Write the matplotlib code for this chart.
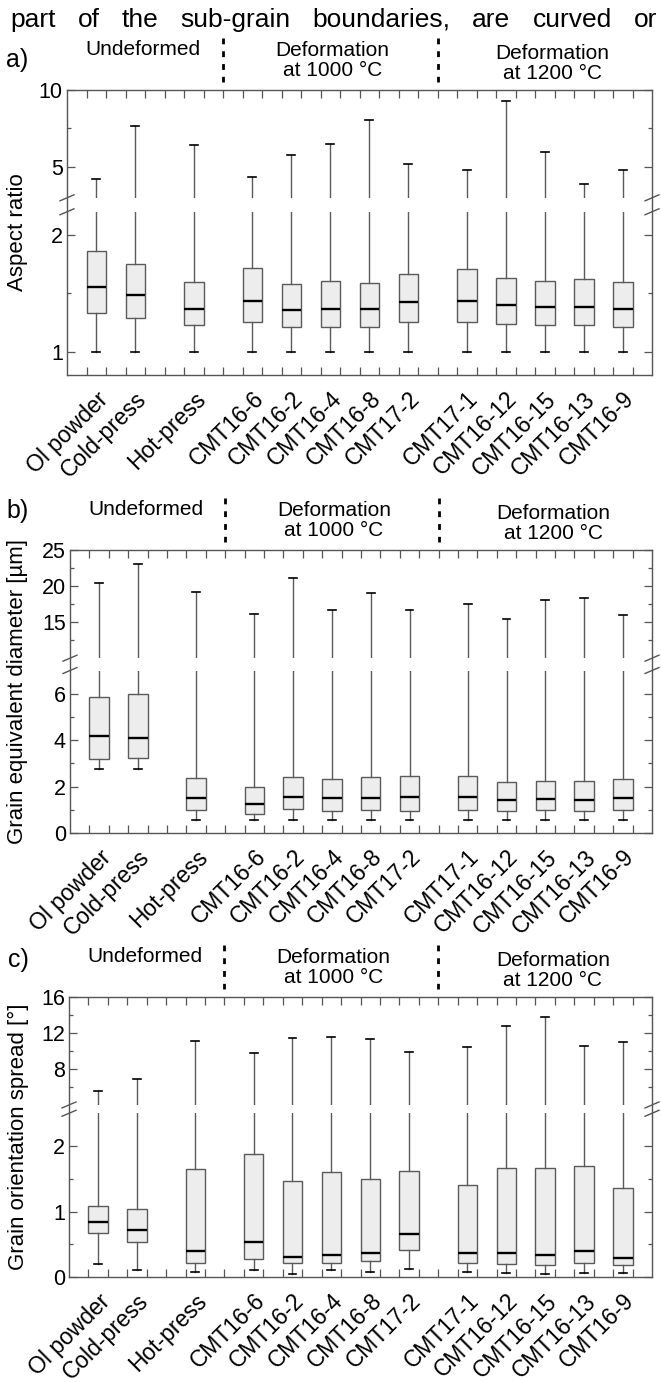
import numpy as np
import matplotlib
matplotlib.use("Agg")
import matplotlib.pyplot as plt
from matplotlib.transforms import blended_transform_factory
from matplotlib.ticker import NullFormatter
from matplotlib.lines import Line2D

plt.rcParams['font.family'] = ['Liberation Sans', 'DejaVu Sans']
plt.rcParams['lines.scale_dashes'] = False

# ---------------- data ----------------
samples = ["Ol powder", "Cold-press", "Hot-press", "CMT16-6", "CMT16-2", "CMT16-4",
           "CMT16-8", "CMT17-2", "CMT17-1", "CMT16-12", "CMT16-15", "CMT16-13", "CMT16-9"]
positions = [1.5, 3.5, 6.5, 9.5, 11.5, 13.5, 15.5, 17.5, 20.5, 22.5, 24.5, 26.5, 28.5]

aspect_lo  = [1.00, 1.00, 1.00, 1.00, 1.00, 1.00, 1.00, 1.00, 1.00, 1.00, 1.00, 1.00, 1.00]
aspect_q1  = [1.26, 1.22, 1.17, 1.19, 1.16, 1.16, 1.16, 1.19, 1.19, 1.18, 1.17, 1.17, 1.16]
aspect_med = [1.47, 1.40, 1.29, 1.35, 1.28, 1.29, 1.29, 1.34, 1.35, 1.32, 1.30, 1.30, 1.29]
aspect_q3  = [1.82, 1.68, 1.51, 1.64, 1.49, 1.52, 1.50, 1.58, 1.63, 1.55, 1.52, 1.54, 1.51]
aspect_hi  = [4.48, 7.22, 6.10, 4.58, 5.57, 6.15, 7.64, 5.13, 4.84, 9.06, 5.69, 4.30, 4.87]

diam_lo  = [2.76, 2.76, 0.54, 0.54, 0.54, 0.54, 0.54, 0.54, 0.54, 0.54, 0.54, 0.54, 0.54]
diam_q1  = [3.20, 3.21, 0.97, 0.81, 1.04, 0.96, 0.99, 0.96, 0.99, 0.94, 0.97, 0.96, 0.99]
diam_med = [4.17, 4.11, 1.51, 1.24, 1.54, 1.50, 1.50, 1.53, 1.53, 1.43, 1.46, 1.43, 1.50]
diam_q3  = [5.87, 6.00, 2.36, 2.00, 2.40, 2.33, 2.40, 2.44, 2.46, 2.21, 2.26, 2.26, 2.31]
diam_hi  = [20.4, 23.07, 19.18, 16.06, 21.1, 16.66, 18.99, 16.7, 17.57, 15.41, 18.08, 18.4, 16.0]

gos_lo  = [0.20, 0.11, 0.08, 0.10, 0.05, 0.10, 0.08, 0.12, 0.08, 0.06, 0.05, 0.06, 0.06]
gos_q1  = [0.67, 0.54, 0.21, 0.27, 0.21, 0.21, 0.24, 0.41, 0.21, 0.20, 0.18, 0.21, 0.18]
gos_med = [0.84, 0.72, 0.39, 0.54, 0.31, 0.33, 0.36, 0.65, 0.36, 0.36, 0.33, 0.40, 0.29]
gos_q3  = [1.08, 1.04, 1.65, 1.88, 1.46, 1.61, 1.50, 1.62, 1.41, 1.66, 1.66, 1.70, 1.36]
gos_hi  = [5.59, 6.89, 11.14, 9.74, 11.48, 11.59, 11.33, 9.92, 10.41, 12.78, 13.81, 10.56, 11.0]

group_labels = ["Undeformed", ["Deformation", "at 1000 \u00b0C"], ["Deformation", "at 1200 \u00b0C"]]
separators = [8, 19]

top_words = ["part", "of", "the", "sub-grain", "boundaries,", "are", "curved", "or"]

# ---------------- layout ----------------
W, H, DPI = 661, 1382, 100
fig = plt.figure(figsize=(W / DPI, H / DPI), dpi=DPI)

GREY = '#555555'
FS_TICK = 15.5
FS_XLAB = 16.5
FS_HDR = 15
FS_YLAB = 16


def make_funcs(log, lo_slope, v1, v2, gap, up_slope):
    g = (lambda v: np.log10(np.clip(v, 1e-9, None))) if log else (lambda v: v)
    ginv = (lambda u: 10.0 ** u) if log else (lambda u: u)
    t1 = lo_slope * g(np.float64(v1))
    t2 = t1 + gap
    gv2 = g(np.float64(v2))

    def fwd(v):
        v = np.asarray(v, dtype=float)
        with np.errstate(all='ignore'):
            tl = lo_slope * g(v)
            tu = t2 + up_slope * (g(v) - gv2)
            tm = t1 + (v - v1) / (v2 - v1) * gap
        return np.where(v <= v1, tl, np.where(v >= v2, tu, tm))

    def inv(t):
        t = np.asarray(t, dtype=float)
        with np.errstate(all='ignore'):
            vl = ginv(t / lo_slope)
            vu = ginv(gv2 + (t - t2) / up_slope)
            vm = v1 + (t - t1) / gap * (v2 - v1)
        return np.where(t <= t1, vl, np.where(t >= t2, vu, vm))
    return fwd, inv


panels = [
    dict(label='a)', lab_xy=(6, 67), left=67, right=652, top=90, bottom=375,
         ylabel='Aspect ratio',
         data=(aspect_lo, aspect_q1, aspect_med, aspect_q3, aspect_hi),
         scale=(True, 390.0, 2.29, 3.78, 14.0, 256.0), ylim=(0.871, 10),
         major=[1, 2, 5, 10], majlab=['1', '2', '5', '10'],
         minor=[2 ** 0.5, 50 ** 0.5]),
    dict(label='b)', lab_xy=(6, 518), left=70, right=652, top=550, bottom=833,
         ylabel='Grain equivalent diameter [\u00b5m]',
         data=(diam_lo, diam_q1, diam_med, diam_q3, diam_hi),
         scale=(False, 23.33, 7.0, 10.0, 12.4, 7.25), ylim=(0, 25),
         major=[0, 2, 4, 6, 15, 20, 25], majlab=['0', '2', '4', '6', '15', '20', '25'],
         minor=[1, 3, 5, 12.5, 17.5, 22.5]),
    dict(label='c)', lab_xy=(8, 967), left=69, right=652, top=997, bottom=1277,
         ylabel='Grain orientation spread [\u00b0]',
         data=(gos_lo, gos_q1, gos_med, gos_q3, gos_hi),
         scale=(False, 65.5, 2.5, 4.0, 8.3, 9.0), ylim=(0, 16),
         major=[0, 1, 2, 8, 12, 16], majlab=['0', '1', '2', '8', '12', '16'],
         minor=[0.5, 1.5, 6, 10, 14]),
]

axes = []
for p in panels:
    l, r, t, b = p['left'], p['right'], p['top'], p['bottom']
    ax = fig.add_axes([l / W, 1 - b / H, (r - l) / W, (b - t) / H])
    axes.append(ax)
    hpx = b - t
    fwd, inv = make_funcs(*p['scale'])
    ax.set_yscale('function', functions=(fwd, inv))
    ax.set_xlim(0, 30)
    ax.set_ylim(*p['ylim'])

    lo, q1, med, q3, hi = p['data']
    stats = [dict(med=m, q1=a, q3=c, whislo=w0, whishi=w1, fliers=[])
             for w0, a, m, c, w1 in zip(lo, q1, med, q3, hi)]
    ax.bxp(stats, positions=positions, widths=1.0, capwidths=0.4,
           patch_artist=True, showfliers=False, manage_ticks=False,
           boxprops=dict(facecolor='#ededed', edgecolor='#5a5a5a', linewidth=1.0),
           medianprops=dict(color='black', linewidth=1.7, solid_capstyle='butt'),
           whiskerprops=dict(color='#5a5a5a', linewidth=1.0),
           capprops=dict(color='black', linewidth=1.2))

    # break gap
    v1, v2 = p['scale'][2], p['scale'][3]
    ax.axhspan(v1, v2, facecolor='white', edgecolor='none', zorder=2.2)

    # ticks
    ax.set_xticks(range(1, 30))
    ax.xaxis.set_major_formatter(NullFormatter())
    ax.set_xticks(positions, samples, minor=True)
    for lab in ax.get_xticklabels(minor=True):
        lab.set_rotation(45)
        lab.set_ha('right')
        lab.set_va('top')
        lab.set_rotation_mode('anchor')
    ax.tick_params(axis='x', which='major', direction='in', top=True, bottom=True,
                   length=5.8, width=0.9, color=GREY)
    ax.tick_params(axis='x', which='minor', length=0, pad=9, labelsize=FS_XLAB)
    ax.set_yticks(p['major'], p['majlab'])
    ax.set_yticks(p['minor'], minor=True)
    ax.yaxis.set_minor_formatter(NullFormatter())
    ax.tick_params(axis='y', which='both', direction='in', left=True, right=True,
                   width=0.9, color=GREY, labelsize=FS_TICK, pad=3)
    ax.tick_params(axis='y', which='major', length=5.8)
    ax.tick_params(axis='y', which='minor', length=3.2)
    for s in ax.spines.values():
        s.set_color(GREY)
        s.set_linewidth(1.0)

    # separators & group headers
    bt = blended_transform_factory(ax.transData, ax.transAxes)
    for xs in separators:
        ax.plot([xs, xs], [1 + 52 / hpx, 1 + 8 / hpx], transform=bt, clip_on=False,
                color='black', lw=2.0, ls=(0, (4.2, 5.0)))
    ax.text(3.9, 1 + 35 / hpx, group_labels[0], transform=bt, ha='center',
            va='baseline', fontsize=FS_HDR)
    ax.text(13.6, 1 + 34 / hpx, group_labels[1][0], transform=bt, ha='center',
            va='baseline', fontsize=FS_HDR)
    ax.text(13.6, 1 + 14 / hpx, group_labels[1][1], transform=bt, ha='center',
            va='baseline', fontsize=FS_HDR)
    ax.text(24.9, 1 + 31 / hpx, group_labels[2][0], transform=bt, ha='center',
            va='baseline', fontsize=FS_HDR)
    ax.text(24.9, 1 + 11 / hpx, group_labels[2][1], transform=bt, ha='center',
            va='baseline', fontsize=FS_HDR)

    # panel label and y label
    fig.text(p['lab_xy'][0] / W, 1 - p['lab_xy'][1] / H, p['label'], fontsize=18,
             ha='left', va='baseline')
    fig.text(18 / W, 1 - (t + b) / 2 / H, p['ylabel'], rotation=90, ha='center',
             va='center', fontsize=FS_YLAB)

    # break marks on both spines
    for xa in (0.0, 1.0):
        for v in (v1, v2):
            py = ax.transData.transform((0, v))[1]
            px = ax.transAxes.transform((xa, 0))[0]
            x0, y0 = fig.transFigure.inverted().transform((px - 7, py - 3))
            x1, y1 = fig.transFigure.inverted().transform((px + 7, py + 3))
            fig.add_artist(Line2D([x0, x1], [y0, y1], transform=fig.transFigure,
                                  color=GREY, lw=1.0))

# justified top text line
renderer = fig.canvas.get_renderer()
tobjs = [fig.text(0, 1 - 27 / H, w, fontsize=19, ha='left', va='baseline') for w in top_words]
widths = [t.get_window_extent(renderer).width for t in tobjs]
x_start, x_end = 10.0, 657.0
gap = (x_end - x_start - sum(widths)) / (len(top_words) - 1)
x = x_start
for t, w in zip(tobjs, widths):
    t.set_x(x / W)
    x += w + gap

fig.savefig('out.png', dpi=DPI)
